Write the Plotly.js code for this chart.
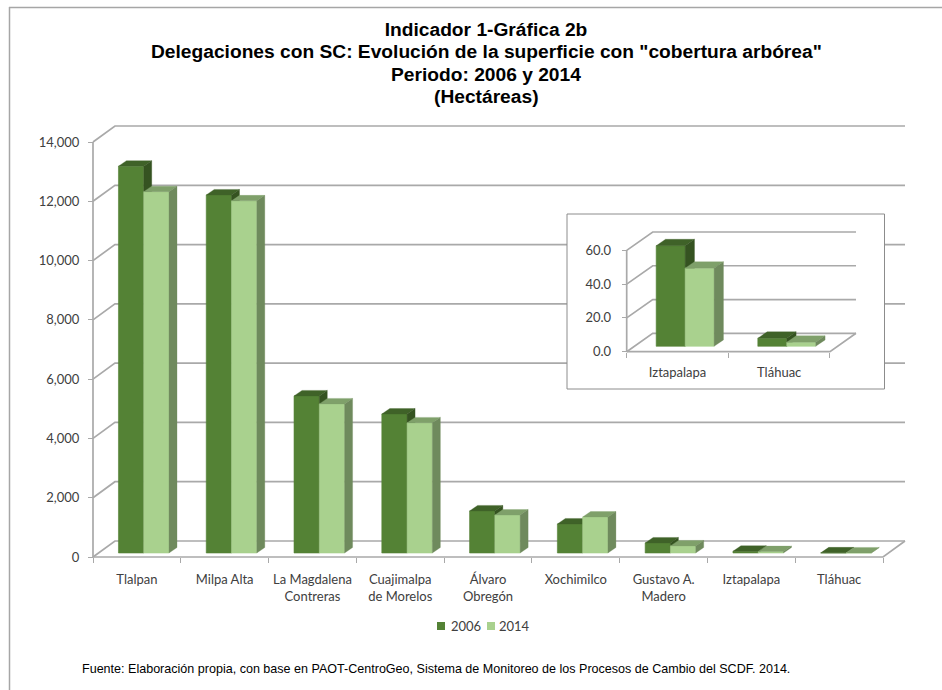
<!DOCTYPE html>
<html>
<head>
<meta charset="utf-8">
<script src="https://cdn.plot.ly/plotly-3.0.1.min.js"></script>
<style>html,body{margin:0;padding:0;background:#fff}</style>
</head>
<body>
<div id="chart" style="width:942px;height:690px"></div>
<script>
// ---- data ----
const categories = ["Tlalpan","Milpa Alta","La Magdalena<br>Contreras","Cuajimalpa<br>de Morelos","Álvaro<br>Obregón","Xochimilco","Gustavo A.<br>Madero","Iztapalapa","Tláhuac"];
const values2006 = [13050,12080,5300,4690,1420,980,340,60,5];
const values2014 = [12190,11880,5030,4390,1280,1215,240,47,3];
const yTicks = [0,2000,4000,6000,8000,10000,12000,14000];

const insetCategories = ["Iztapalapa","Tláhuac"];
const insetValues2006 = [59.6,4.8];
const insetValues2014 = [46.3,2.4];
const insetTicks = [0,20,40,60];

const seriesNames = ["2006","2014"];
const titleLines = ["Indicador 1-Gráfica 2b",
  "Delegaciones con SC: Evolución de la superficie con \"cobertura arbórea\"",
  "Periodo: 2006 y 2014","(Hectáreas)"];
const sourceNote = "Fuente: Elaboración propia, con base en PAOT-CentroGeo, Sistema de Monitoreo de los Procesos de Cambio del SCDF. 2014.";

// ---- styles ----
const W = 942, H = 690, PAD = 4;
const GRID = "#a9a9a9", TXT = "#404040", LABEL_FONT = "Lato, 'Open Sans', sans-serif";
const COL = {
  "2006": {front:"#548235", top:"#3f6228", side:"#355321"},
  "2014": {front:"#a9d18e", top:"#7fa06a", side:"#6f8a5d"}
};
const TITLE_FONT = {family:"Liberation Sans",size:19.2,color:"#000",weight:"bold"};
const TITLE_X = 486, TITLE_Y = [29,51.7,74.3,96.9];

const traces = [];
const layout = {
  width:W, height:H, margin:{l:0,r:0,t:0,b:0}, paper_bgcolor:"#fff", plot_bgcolor:"rgba(0,0,0,0)",
  barmode:"overlay", showlegend:false, hovermode:false,
  title:{text:titleLines[0], x:TITLE_X/W, xanchor:"center", y:1-TITLE_Y[0]/H, yanchor:"middle", font:TITLE_FONT},
  annotations:[], shapes:[
    {type:"line",xref:"paper",yref:"paper",x0:9/W,x1:1,y0:1-7.5/H,y1:1-7.5/H,line:{color:"#a6a6a6",width:1.5}},
    {type:"line",xref:"paper",yref:"paper",x0:9.5/W,x1:9.5/W,y0:1-7/H,y1:0,line:{color:"#a6a6a6",width:1.5}}
  ]
};
let axisN = 0;
// Plot box given in pixels; the domain is padded so lines on its edge are not clipped.
function axes(box, xSpan, ySpan, xOpts, yOpts){
  axisN++;
  const s = axisN===1 ? "" : String(axisN);
  const xPad = PAD*(xSpan[1]-xSpan[0])/(box.r-box.l), yPad = PAD*(ySpan[1]-ySpan[0])/(box.b-box.t);
  const xRange=[xSpan[0]-xPad,xSpan[1]+xPad], yRange=[ySpan[0]-yPad,ySpan[1]+yPad];
  layout["xaxis"+s] = Object.assign({domain:[(box.l-PAD)/W,(box.r+PAD)/W], range:xRange, visible:false, fixedrange:true,
    anchor:"free", position:1-box.b/H}, xOpts||{});
  layout["yaxis"+s] = Object.assign({domain:[1-(box.b+PAD)/H,1-(box.t-PAD)/H], range:yRange, visible:false, fixedrange:true,
    anchor:"free", position:box.l/W}, yOpts||{});
  return {x:"x"+s, y:"y"+s, xRange, yRange, box};
}
function overlay(base, xOpts){
  axisN++;
  const s = String(axisN);
  layout["xaxis"+s] = Object.assign({overlaying:base.x, range:base.xRange, visible:false, fixedrange:true,
    anchor:"free", position:1-base.box.b/H}, xOpts||{});
  layout["yaxis"+s] = {overlaying:base.y, range:base.yRange, visible:false, fixedrange:true, anchor:"free", position:base.box.l/W};
  return {x:"x"+s, y:"y"+s};
}
const tickAxis = (vals, labels, len, font, standoff) => ({
  visible:true, showgrid:false, zeroline:false, showline:false,
  tickmode:"array", tickvals:vals, ticktext:labels, ticks:"outside", ticklen:len, tickwidth:1, tickcolor:GRID,
  tickfont:font, ticklabelstandoff:standoff, automargin:false
});
const boundaryTicks = vals => ({visible:true,showgrid:false,zeroline:false,showline:false,showticklabels:false,
  tickmode:"array",tickvals:vals,ticks:"outside",ticklen:5,tickcolor:GRID,tickwidth:1});

// Draws walls, grid lines and floor of a pseudo-3D plot from its tick values.
function walls(ax, n, ticks, depthX, depthY){
  const xs = [], ys = [];
  ticks.forEach(v => { xs.push(0,depthX,n+depthX,null); ys.push(v,v+depthY,v+depthY,null); });
  xs.push(0,0,null,  0,n,n+depthX); ys.push(0,ticks[ticks.length-1],null, 0,0,depthY);
  traces.push({type:"scatter",mode:"lines",x:xs,y:ys,xaxis:ax.x,yaxis:ax.y,showlegend:false,
    line:{color:GRID,width:1.7},hoverinfo:"skip"});
}
// Draws one series as front face (bar) + top & side faces, all from its values.
function series(ax, vals, name, col, g){
  const cx = vals.map((v,i)=> i+g.start+g.w/2);
  traces.push({type:"bar",name:name,x:cx,y:vals,base:vals.map(()=>g.base),width:g.w,xaxis:ax.x,yaxis:ax.y,
    showlegend:false,marker:{color:col.front,line:{color:col.front,width:0.6}},hoverinfo:"skip"});
  const tx=[],ty=[],sx=[],sy=[];
  vals.forEach((v,i)=>{
    const l=cx[i]-g.w/2, r=cx[i]+g.w/2, t=g.base+v;
    tx.push(l,r,r+g.dx,l+g.dx,l,null); ty.push(t,t,t+g.dy,t+g.dy,t,null);
    sx.push(r,r,r+g.dx,r+g.dx,r,null); sy.push(g.base,t,t+g.dy,g.base+g.dy,g.base,null);
  });
  [[tx,ty,col.top],[sx,sy,col.side]].forEach(f=>traces.push({type:"scatter",mode:"lines",x:f[0],y:f[1],
    fill:"toself",fillcolor:f[2],line:{color:f[2],width:0.3},xaxis:ax.x,yaxis:ax.y,showlegend:false,hoverinfo:"skip"}));
}

// ---- main chart ----
const mainFont={family:LABEL_FONT,size:13,color:TXT};
const m0 = axes({l:93,r:905,t:126,b:557}, [0,9.25], [0,14540],
  tickAxis(categories.map((c,i)=>i+0.5), categories, 0, mainFont, 10),
  tickAxis(yTicks, yTicks.map(v=>v.toLocaleString("en-US")), 5, mainFont, 6));
walls(m0, 9, yTicks, 0.25, 540);
const m1 = overlay(m0, boundaryTicks(categories.map((c,i)=>i).concat(9)));
const mainGeo = {w:0.288, base:135, dx:0.091, dy:185};
series(m1, values2006, seriesNames[0], COL["2006"], Object.assign({start:0.29},mainGeo));
const m2 = overlay(m0);
series(m2, values2014, seriesNames[1], COL["2014"], Object.assign({start:0.578},mainGeo));

// ---- inset panel ----
const boxAx = axes({l:567,r:884.5,t:214,b:389}, [0,1], [0,1]);
traces.push({type:"scatter",mode:"lines",x:[0,1,1,0,0],y:[0,0,1,1,0],fill:"toself",fillcolor:"#fff",
  line:{color:"#8c8c8c",width:1},xaxis:boxAx.x,yaxis:boxAx.y,showlegend:false,hoverinfo:"skip"});
const i0 = axes({l:626.7,r:856,t:232,b:351.7}, [0,2.256], [0,70.9],
  tickAxis(insetCategories.map((c,i)=>i+0.5), insetCategories, 0, mainFont, 9),
  tickAxis(insetTicks, insetTicks.map(v=>v.toFixed(1)), 5, mainFont, 8));
walls(i0, 2, insetTicks, 0.256, 10.9);
const i1 = overlay(i0, boundaryTicks([0,1,2]));
const insetGeo = {w:0.285, base:3.2, dx:0.092, dy:3.8};
series(i1, insetValues2006, seriesNames[0], COL["2006"], Object.assign({start:0.29},insetGeo));
const i2 = overlay(i0);
series(i2, insetValues2014, seriesNames[1], COL["2014"], Object.assign({start:0.575},insetGeo));

// ---- remaining title lines, legend key and source note ----
const note = (text,x,y,font,anchor) => layout.annotations.push({text,xref:"paper",yref:"paper",x:x/W,y:1-y/H,
  xanchor:anchor,yanchor:"middle",showarrow:false,font});
[1,2,3].forEach(i=>note(titleLines[i],TITLE_X,TITLE_Y[i],TITLE_FONT,"center"));
[[437,449,"2006"],[487,497,"2014"]].forEach(k=>{
  layout.shapes.push({type:"rect",xref:"paper",yref:"paper",x0:k[0]/W,x1:(k[0]+8)/W,y0:1-630/H,y1:1-622/H,
    fillcolor:COL[k[2]].front,line:{width:0}});
  note(k[2],k[1],625.5,mainFont,"left");
});
note(sourceNote,80,669,{family:"Liberation Sans",size:12.55,color:"#000"},"left");

Plotly.newPlot("chart",traces,layout,{displayModeBar:false,staticPlot:true});
</script>
</body>
</html>
